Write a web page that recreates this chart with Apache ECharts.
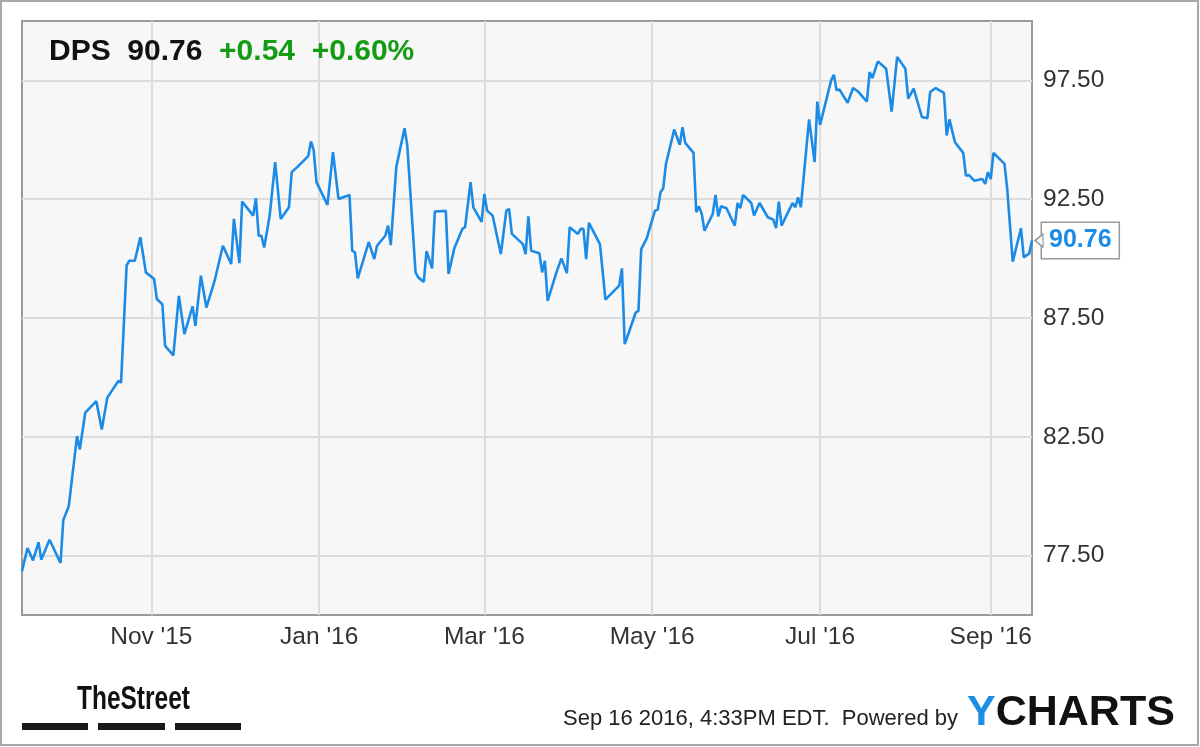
<!DOCTYPE html>
<html><head><meta charset="utf-8">
<script src="https://cdn.jsdelivr.net/npm/echarts@6/dist/echarts.min.js"></script>
<style>html,body{margin:0;padding:0;background:#fff}#c{width:1200px;height:747px}</style>
</head><body><div id="c"></div>
<script>
const dates = [
'2015-09-15','2015-09-17','2015-09-19','2015-09-21','2015-09-22','2015-09-25','2015-09-29','2015-09-30',
'2015-10-02','2015-10-05','2015-10-06','2015-10-08','2015-10-12','2015-10-14','2015-10-16','2015-10-20','2015-10-21','2015-10-23','2015-10-24','2015-10-26','2015-10-28','2015-10-30',
'2015-11-02','2015-11-03','2015-11-05','2015-11-06','2015-11-09','2015-11-11','2015-11-13','2015-11-16','2015-11-17','2015-11-19','2015-11-21','2015-11-24','2015-11-27','2015-11-30',
'2015-12-01','2015-12-03','2015-12-04','2015-12-08','2015-12-09','2015-12-10','2015-12-11','2015-12-12','2015-12-14','2015-12-16','2015-12-18','2015-12-21','2015-12-22','2015-12-24','2015-12-28','2015-12-29','2015-12-30','2015-12-31',
'2016-01-04','2016-01-06','2016-01-08','2016-01-12','2016-01-13','2016-01-14','2016-01-15','2016-01-19','2016-01-21','2016-01-22','2016-01-25','2016-01-26','2016-01-27','2016-01-29',
'2016-02-01','2016-02-02','2016-02-05','2016-02-06','2016-02-08','2016-02-09','2016-02-11','2016-02-12','2016-02-16','2016-02-17','2016-02-19','2016-02-22','2016-02-23','2016-02-25','2016-02-26','2016-02-29',
'2016-03-01','2016-03-02','2016-03-04','2016-03-07','2016-03-09','2016-03-10','2016-03-11','2016-03-15','2016-03-16','2016-03-17','2016-03-18','2016-03-21','2016-03-22','2016-03-23','2016-03-24','2016-03-27','2016-03-29','2016-03-31',
'2016-04-01','2016-04-04','2016-04-05','2016-04-06','2016-04-07','2016-04-08','2016-04-12','2016-04-14','2016-04-19','2016-04-20','2016-04-21','2016-04-22','2016-04-25','2016-04-26','2016-04-27','2016-04-29',
'2016-05-02','2016-05-03','2016-05-04','2016-05-05','2016-05-06','2016-05-09','2016-05-11','2016-05-12','2016-05-13','2016-05-16','2016-05-17','2016-05-18','2016-05-19','2016-05-20','2016-05-23','2016-05-24','2016-05-25','2016-05-26','2016-05-28','2016-05-31',
'2016-06-01','2016-06-02','2016-06-03','2016-06-06','2016-06-07','2016-06-09','2016-06-12','2016-06-14','2016-06-15','2016-06-16','2016-06-17','2016-06-21','2016-06-22','2016-06-23','2016-06-24','2016-06-27','2016-06-29','2016-06-30',
'2016-07-01','2016-07-05','2016-07-06','2016-07-07','2016-07-08','2016-07-11','2016-07-13','2016-07-15','2016-07-18','2016-07-19','2016-07-20','2016-07-22','2016-07-25','2016-07-27','2016-07-29',
'2016-08-01','2016-08-02','2016-08-04','2016-08-07','2016-08-09','2016-08-10','2016-08-12','2016-08-15','2016-08-16','2016-08-17','2016-08-19','2016-08-22','2016-08-23','2016-08-24','2016-08-26','2016-08-29','2016-08-30','2016-08-31',
'2016-09-01','2016-09-02','2016-09-06','2016-09-07','2016-09-09','2016-09-12','2016-09-13','2016-09-15','2016-09-16'
];
const prices = [
76.84,77.82,77.30,78.06,77.33,78.17,77.19,79.00,
79.58,82.53,81.97,83.52,84.00,82.81,84.15,84.85,84.78,89.70,89.91,89.91,90.90,89.42,
89.14,88.30,88.08,86.33,85.93,88.43,86.82,87.99,87.17,89.28,87.94,89.07,90.54,89.77,
91.67,89.81,92.40,91.81,92.54,90.96,90.96,90.47,91.81,94.06,91.67,92.16,93.64,93.85,94.31,94.93,94.55,93.22,
92.26,94.48,92.51,92.68,90.33,90.26,89.17,90.69,89.98,90.54,90.96,91.39,90.57,93.85,
95.49,94.76,89.42,89.21,89.02,90.31,89.59,91.98,92.01,89.35,90.40,91.25,91.32,93.22,92.16,91.55,
92.72,92.02,91.81,90.19,92.02,92.09,91.04,90.61,90.19,91.78,90.33,90.23,89.42,89.91,88.22,89.35,90.01,89.39,
91.32,91.04,91.25,91.25,89.98,91.50,90.61,88.27,88.86,89.59,86.40,86.72,87.73,87.80,90.40,90.85,
92.02,92.06,92.79,92.96,93.99,95.43,94.79,95.53,94.87,94.45,91.95,92.20,91.88,91.17,91.88,92.68,91.78,92.20,92.12,91.39,
92.34,92.12,92.68,92.34,91.81,92.34,91.74,91.64,91.28,92.40,91.39,92.34,92.16,92.58,92.16,95.86,94.06,96.61,
95.63,97.50,97.74,97.08,97.12,96.56,97.18,97.01,96.61,97.85,97.60,98.30,97.99,96.19,98.49,
97.99,96.73,97.15,95.96,95.91,97.01,97.18,96.98,95.18,95.86,94.90,94.45,93.49,93.52,93.28,93.35,93.14,93.64,
93.35,94.45,93.99,92.93,89.87,91.28,90.05,90.22,90.76
];
const yTicks = [77.5, 82.5, 87.5, 92.5, 97.5];
const yRange = [75, 100];
const xTickDates = ['2015-11-01','2016-01-01','2016-03-01','2016-05-01','2016-07-01','2016-09-01'];
const xTickLabels = ["Nov '15","Jan '16","Mar '16","May '16","Jul '16","Sep '16"];
const xRange = ['2015-09-15','2016-09-16'];
const header = {ticker:'DPS', last:'90.76', change:'+0.54', pct:'+0.60%'};
const footerText = 'Sep 16 2016, 4:33PM EDT.  Powered by';

const BLUE = '#1c8be6';
const GREEN = '#139c13';
const FONT = 'Liberation Sans, Arial, sans-serif';

function ts(s){const p=s.split('-');return Date.UTC(+p[0],+p[1]-1,+p[2]);}
const xTickTs = xTickDates.map(ts);
const seriesData = dates.map((d,i)=>[ts(d), prices[i]]);
const lastIdx = seriesData.length - 1;

const chart = echarts.init(document.getElementById('c'), null, {renderer:'canvas'});
chart.setOption({
  animation:false,
  backgroundColor:'#ffffff',
  title:{
    left:44, top:32,
    text:'{k|'+header.ticker+'}  {k|'+header.last+'}  {g|'+header.change+'}  {g|'+header.pct+'}',
    textStyle:{fontSize:30, fontWeight:'bold', fontFamily:FONT,
      rich:{
        k:{fontSize:30, fontWeight:'bold', color:'#111', fontFamily:FONT},
        g:{fontSize:30, fontWeight:'bold', color:GREEN, fontFamily:FONT}
      }}
  },
  grid:{left:22, right:168, top:21, bottom:132, show:true, backgroundColor:'#f7f7f7', borderColor:'#9a9a9a', borderWidth:2},
  xAxis:{
    type:'value', min:ts(xRange[0]), max:ts(xRange[1]),
    axisLine:{show:false},
    axisTick:{show:false, customValues:xTickTs},
    axisLabel:{customValues:xTickTs, fontSize:24.5, color:'#333', fontFamily:FONT, margin:10,
      showMinLabel:true, showMaxLabel:true, hideOverlap:false,
      formatter:function(v){
        let best=0, bd=Infinity;
        xTickTs.forEach((t,i)=>{const d=Math.abs(t-v); if(d<bd){bd=d;best=i;}});
        return xTickLabels[best];
      }},
    splitLine:{show:true, lineStyle:{color:'#dcdcdc', width:2}}
  },
  yAxis:{
    type:'value', position:'right', min:yRange[0], max:yRange[1],
    axisLine:{show:false},
    axisTick:{show:false, customValues:yTicks},
    axisLabel:{customValues:yTicks, fontSize:24.5, color:'#333', fontFamily:FONT, margin:11,
      showMinLabel:true, showMaxLabel:true,
      formatter:function(v){return Number(v).toFixed(2);}},
    splitLine:{show:true, lineStyle:{color:'#dcdcdc', width:2}}
  },
  series:[{
    type:'line', data:seriesData, showSymbol:false, symbol:'none',
    lineStyle:{color:BLUE, width:2.6}, itemStyle:{color:BLUE},
    endLabel:{show:true, formatter:function(p){return p.value[1].toFixed(2);},
      color:BLUE, fontWeight:'bold', fontSize:25, fontFamily:FONT,
      backgroundColor:'#fff', borderColor:'#9a9a9a', borderWidth:1.5,
      padding:[6,7,4,7], distance:10},
    markPoint:{
      silent:true,
      symbol:'path://M8,0 L0,5 L8,10 Z', symbolSize:[8,13], symbolOffset:[7,0],
      itemStyle:{color:'#fff', borderColor:'#9a9a9a', borderWidth:1.5},
      label:{show:false},
      data:[{coord:seriesData[lastIdx]}]
    }
  }],
  graphic:[
    {type:'rect', silent:true, z:100, shape:{x:1, y:1, width:1197, height:744},
      style:{fill:'none', stroke:'#a8a8a8', lineWidth:2}},
    {type:'text', silent:true, x:77, y:700, scaleX:0.72,
      style:{text:'TheStreet', font:'bold 34px '+FONT, fill:'#111', align:'left', verticalAlign:'middle'}},
    {type:'rect', silent:true, shape:{x:22, y:723, width:66, height:7}, style:{fill:'#1a1a1a'}},
    {type:'rect', silent:true, shape:{x:98, y:723, width:67, height:7}, style:{fill:'#1a1a1a'}},
    {type:'rect', silent:true, shape:{x:175, y:723, width:66, height:7}, style:{fill:'#1a1a1a'}},
    {type:'text', silent:true, x:958, y:719,
      style:{text:footerText, font:'22px '+FONT, fill:'#222', align:'right', verticalAlign:'middle'}},
    {type:'text', silent:true, x:967, y:713,
      style:{text:'{b|Y}{k|CHARTS}', align:'left', verticalAlign:'middle', font:'bold 43px '+FONT,
        rich:{b:{fill:'#1a8fe3', font:'bold 43px '+FONT}, k:{fill:'#111', font:'bold 43px '+FONT}}}}
  ]
});
</script>
</body></html>
